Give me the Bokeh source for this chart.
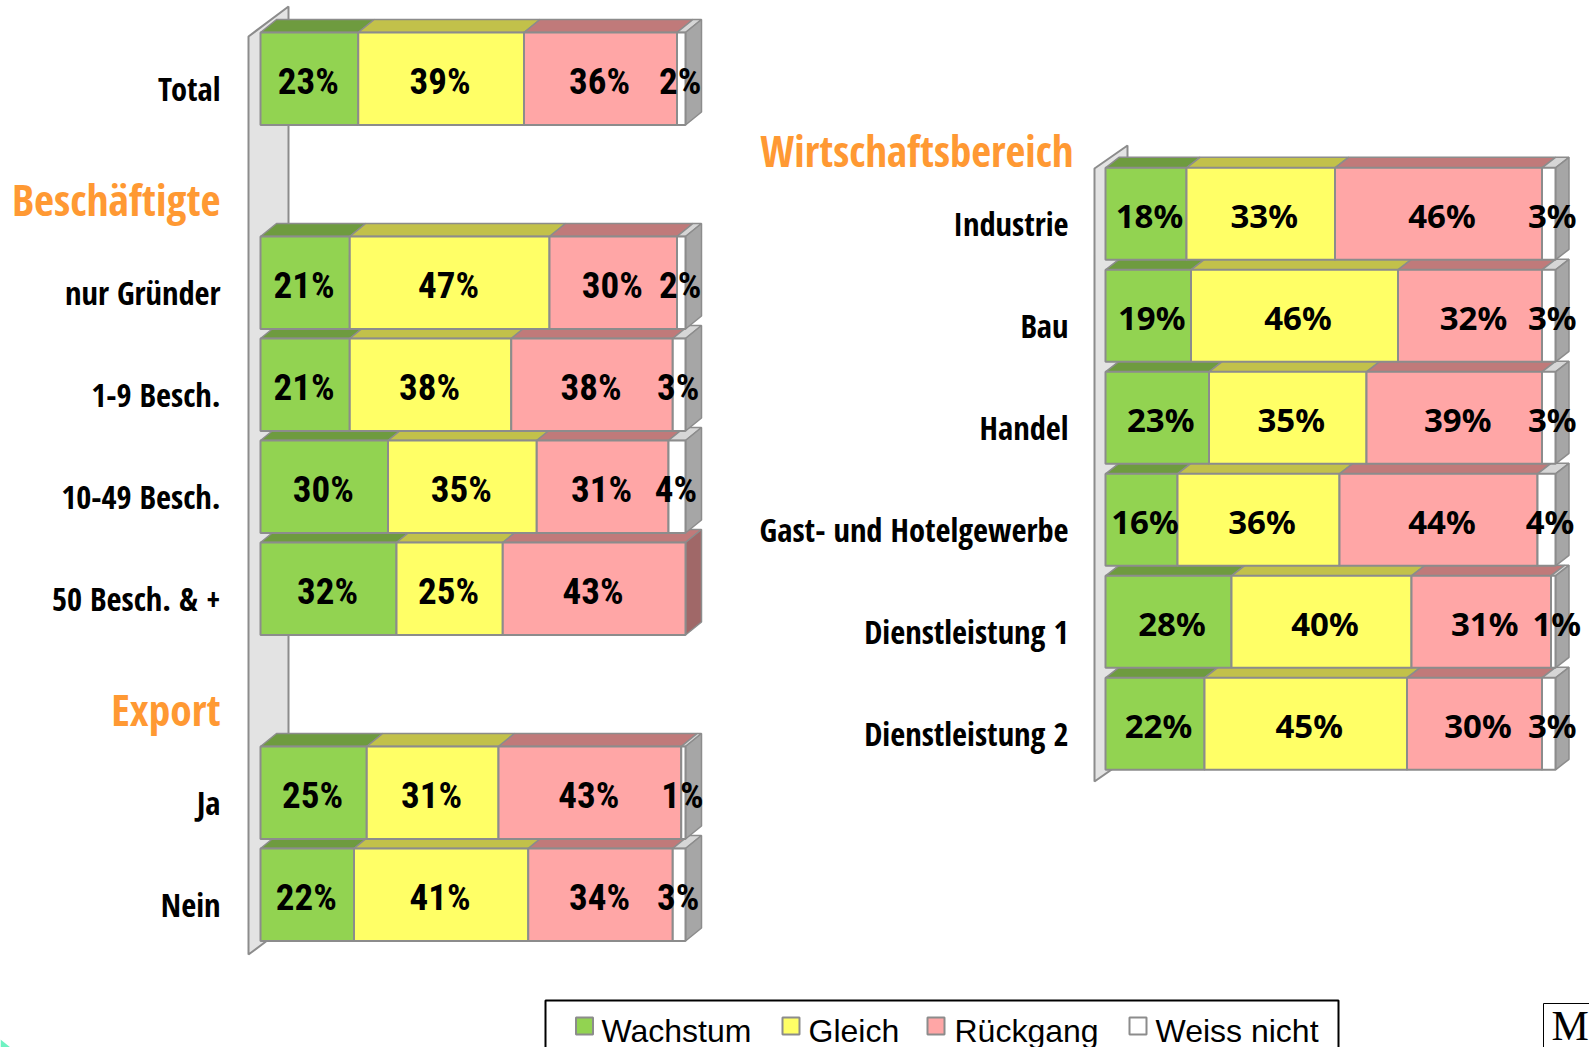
from bokeh.plotting import figure
from bokeh.models import Range1d
from bokeh.core.properties import value
from bokeh.embed import file_html
from bokeh.resources import INLINE

# ---------- data ----------
series = ["Wachstum", "Gleich", "Rückgang", "Weiss nicht"]

left_categories = ["Total", "nur Gründer", "1-9 Besch.", "10-49 Besch.", "50 Besch. & +", "Ja", "Nein"]
left_rows = [0, 2, 3, 4, 5, 7, 8]
left_wachstum = [23, 21, 21, 30, 32, 25, 22]
left_gleich = [39, 47, 38, 35, 25, 31, 41]
left_rueckgang = [36, 30, 38, 31, 43, 43, 34]
left_weiss = [2, 2, 3, 4, 0, 1, 3]

right_categories = ["Industrie", "Bau", "Handel", "Gast- und Hotelgewerbe", "Dienstleistung 1", "Dienstleistung 2"]
right_rows = [0, 1, 2, 3, 4, 5]
right_wachstum = [18, 19, 23, 16, 28, 22]
right_gleich = [33, 46, 35, 36, 40, 45]
right_rueckgang = [46, 32, 39, 44, 31, 30]
right_weiss = [3, 3, 3, 4, 1, 3]

# ---------- style ----------
FRONT = ["#92d351", "#ffff66", "#ffa6a6", "#ffffff"]
TOP = ["#6e9b3f", "#c2c14a", "#c07a7a", "#d6d6d6"]
SIDE = ["#6e9b3f", "#c2c14a", "#a06868", "#a6a6a6"]
EDGE = "#8c8c8c"
ORANGE = "#ff9933"
NUM_FONT = value("Roboto Condensed")
LAB_FONT = value("Open Sans Condensed")
W, H = 1589, 1047

p = figure(width=W, height=H, output_backend="svg", toolbar_location=None,
           x_range=Range1d(0, W), y_range=Range1d(H, 0),
           x_axis_type=None, y_axis_type=None, min_border=0,
           outline_line_color=None, background_fill_color="white")
p.grid.visible = False


def draw_chart(name, x0, x100, y_first, pitch, bar_h, dx, dy, wall, cats, rows, vals,
               font, fsize, lab_dx, lab_dy, cat_x, cat_size, cat_dy):
    sx = (x100 - x0) / 100.0
    xs = -x0 / sx
    xe = (W - x0) / sx
    yc = y_first + bar_h / 2
    ys = (H - yc) / pitch
    ye = -yc / pitch
    p.extra_x_ranges[name] = Range1d(xs, xe)
    p.extra_y_ranges[name] = Range1d(ys, ye)
    kw = dict(x_range_name=name, y_range_name=name)
    ddx, ddy = dx / sx, dy / pitch
    half = bar_h / pitch / 2

    # back wall
    wl, wr, wt, wb, rise = wall
    wx0, wx1 = (wl - x0) / sx, (wr - x0) / sx
    last = (wb - y_first - bar_h / 2) / pitch
    first = (wt - y_first - bar_h / 2) / pitch
    r = rise / pitch
    p.patch([wx0, wx1, wx1, wx0], [first + r, first, last - r, last],
            fill_color="#e3e3e3", line_color=EDGE, line_width=2, **kw)

    for i in range(len(rows) - 1, -1, -1):
        row = rows[i]
        v = [s[i] for s in vals]
        left = 0.0
        bl, br, cols, tops = [], [], [], []
        last_idx = 0
        for k, val in enumerate(v):
            if val == 0:
                continue
            last_idx = k
            bl.append(left)
            br.append(left + val)
            cols.append(FRONT[k])
            tops.append(TOP[k])
            left += val
        xxs = [[a, a + ddx, b + ddx, b] for a, b in zip(bl, br)]
        yys = [[row - half, row - half - ddy, row - half - ddy, row - half] for _ in bl]
        p.patches(xxs, yys, fill_color=tops, line_color=EDGE, line_width=1.5, **kw)
        end = br[-1]
        p.patch([end, end + ddx, end + ddx, end],
                [row - half, row - half - ddy, row + half - ddy, row + half],
                fill_color=SIDE[last_idx], line_color=EDGE, line_width=1.5, **kw)
        p.quad(left=bl, right=br, top=[row - half] * len(bl), bottom=[row + half] * len(bl),
               fill_color=cols, line_color=EDGE, line_width=2, **kw)

    # value labels above all bars
    lx, ly, lt = [], [], []
    for i, row in enumerate(rows):
        left = 0.0
        for s in vals:
            val = s[i]
            if val:
                lx.append(left + val / 2)
                ly.append(row)
                lt.append(f"{val}%")
            left += val
    p.text(lx, ly, text=lt, text_font=font, text_font_style="bold",
           text_font_size=f"{fsize}px", text_align="center", text_baseline="middle",
           text_color="black", x_offset=lab_dx, y_offset=lab_dy, **kw)
    # category labels
    p.text([(cat_x - x0) / sx] * len(rows), rows, text=cats, text_font=LAB_FONT,
           text_font_style="bold", text_font_size=f"{cat_size}px", text_align="right",
           text_baseline="middle", text_color="black", y_offset=cat_dy, **kw)


draw_chart("L", 260, 685, 32, 102, 92.5, 16, 13, (248, 288, 6, 954, 30),
           left_categories, left_rows,
           [left_wachstum, left_gleich, left_rueckgang, left_weiss],
           NUM_FONT, 37, -1, 3, 220, 32.5, 10)
draw_chart("R", 1105, 1555, 167.3, 102, 92, 13.5, 10.5, (1094, 1127, 145, 781, 23),
           right_categories, right_rows,
           [right_wachstum, right_gleich, right_rueckgang, right_weiss],
           value("Noto Sans"), 33, 3.5, 1.5, 1068, 32.5, 10)

# section headings
p.text([220, 220], [199, 709], text=["Beschäftigte", "Export"],
       text_font=LAB_FONT, text_font_style="bold", text_font_size="43.5px", text_color=ORANGE,
       text_align="right", text_baseline="middle")
p.text([1073], [150], text=["Wirtschaftsbereich"],
       text_font=LAB_FONT, text_font_style="bold", text_font_size="43px", text_color=ORANGE,
       text_align="right", text_baseline="middle")

# legend
p.quad(left=[545], right=[1338], top=[1000], bottom=[1100],
       fill_color="white", line_color="black", line_width=2)
mark_x = [575.5, 782, 927, 1129]
text_x = [601, 808, 954, 1155]
p.quad(left=mark_x, right=[m + 17 for m in mark_x],
       top=[1017] * 4, bottom=[1034] * 4,
       fill_color=FRONT, line_color=EDGE, line_width=2)
p.text(text_x, [1030] * 4, text=series,
       text_font=value("Liberation Sans"), text_font_size="32px", text_color="black",
       text_align="left", text_baseline="middle")

# logo fragment, cut by the page edge
p.quad(left=[1543], right=[1700], top=[1003], bottom=[1100],
       fill_color="white", line_color="black", line_width=1)
p.text([1551], [1025], text=["M"], text_font=value("Liberation Serif"),
       text_font_size="42px", text_color="black", text_align="left", text_baseline="middle")

# corner fragment
p.patch([0, 10, 0], [1039, 1047, 1047], fill_color="#6ff2c2", line_color=None)

open("out.html", "w").write(file_html(p, INLINE))
